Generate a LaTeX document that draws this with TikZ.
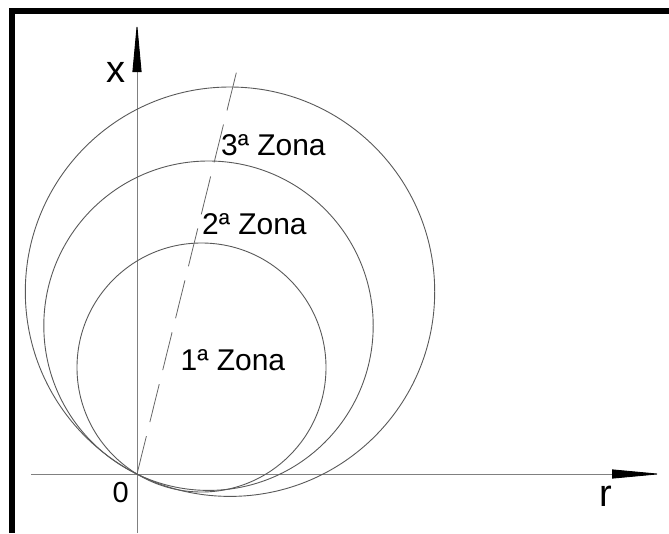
\documentclass[tikz,border=0pt]{standalone}
\usepackage{fontspec}
\setmainfont{Liberation Sans}
\usetikzlibrary{arrows.meta}
\begin{document}
\begin{tikzpicture}[x=1pt,y=-1pt,
  axisline/.style={draw=black!50, line width=0.9pt},
  axisarrow/.style={-{Triangle[length=50pt,width=9pt,color=black]}},
  zonecircle/.style={draw=black!65, line width=0.9pt},
  centreline/.style={draw=black!60, line width=0.8pt, dash pattern=on 39pt off 14.5pt},
  zonelabel/.style={font=\fontsize{30}{36}\selectfont, inner sep=0pt, anchor=base west},
  axislabel/.style={font=\fontsize{38}{44}\selectfont, inner sep=0pt, anchor=base},
  frameline/.style={draw=black, line width=6pt}]
\useasboundingbox (0,0) rectangle (669,533);
% frame
\coordinate (FR) at (669,11);
\coordinate (FC) at (12,11);
\coordinate (FB) at (12,533);
\draw[frameline] (FR) -- (FC) -- (FB);
% origin and axes
\coordinate (O) at (137,474);
\coordinate (Rs) at (31,474);
\coordinate (Re) at (662,474);
\coordinate (Xs) at (137,533);
\coordinate (Xe) at (137,22);
\draw[axisline, axisarrow] (Rs) -- (Re);
\draw[axisline, axisarrow] (Xs) -- (Xe);
% circles
\coordinate (C1) at (201.5,367.5);
\coordinate (C2) at (208.5,325.7);
\coordinate (C3) at (230,291.7);
\draw[zonecircle] (C1) circle[radius=124.5];
\draw[zonecircle] (C2) circle[radius=164.7];
\draw[zonecircle] (C3) circle[radius=204.7];
% dashed line
\coordinate (T) at (237,70);
\draw[centreline] (O) -- (T);
% labels
\node[zonelabel] (z3) at (221,155) {3ª Zona};
\node[zonelabel] (z2) at (202,234.3) {2ª Zona};
\node[zonelabel] (z1) at (180.5,370) {1ª Zona};
\node[axislabel, font=\fontsize{29}{34}\selectfont] (zero) at (120.8,502.7) {0};
\node[axislabel] (xl) at (115.5,82.3) {x};
\node[axislabel] (rl) at (605.5,506.7) {r};
\end{tikzpicture}
\end{document}
